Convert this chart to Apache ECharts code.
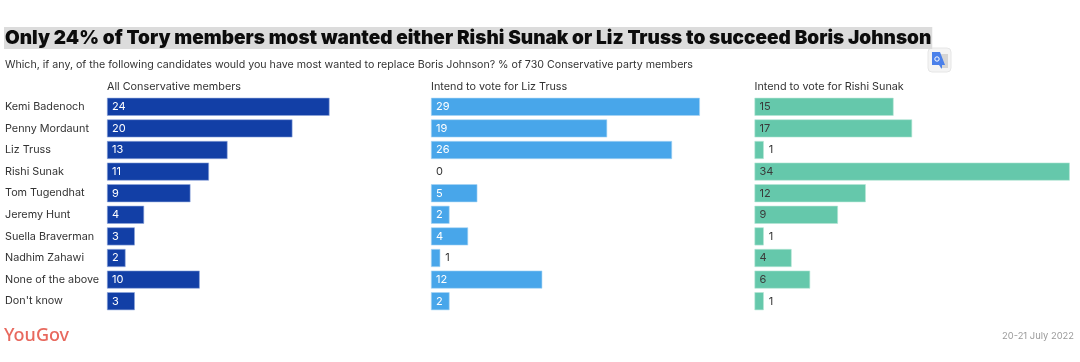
<!DOCTYPE html>
<html><head><meta charset="utf-8">
<style>html,body{margin:0;padding:0;background:#fff}#c{width:1080px;height:362px}</style>
<script src="https://cdn.jsdelivr.net/npm/echarts@6/dist/echarts.min.js"></script>
</head><body><div id="c"></div>
<script>
const categories = ["Kemi Badenoch","Penny Mordaunt","Liz Truss","Rishi Sunak","Tom Tugendhat","Jeremy Hunt","Suella Braverman","Nadhim Zahawi","None of the above","Don't know"];
const allMembers = [24,20,13,11,9,4,3,2,10,3];
const lizVoters = [29,19,26,0,5,2,4,1,12,2];
const rishiVoters = [15,17,1,34,12,9,1,4,6,1];
const panelNames = ["All Conservative members","Intend to vote for Liz Truss","Intend to vote for Rishi Sunak"];
const titleText = "Only 24% of Tory members most wanted either Rishi Sunak or Liz Truss to succeed Boris Johnson";
const subtitleText = "Which, if any, of the following candidates would you have most wanted to replace Boris Johnson? % of 730 Conservative party members";
const dateText = "20-21 July 2022";
const logoText = "YouGov";

const F = "Inter";
const lefts = [107, 431, 754.5];
const colors = ["#123fa6", "#48a6ea", "#65c8ab"];
const borders = ["#8fa6dc", "#a8d5f5", "#b5e5d5"];
const labelColors = ["#ffffff", "#ffffff", "#3a3a3a"];
const values = [allMembers, lizVoters, rishiVoters];

const option = {
  animation: false,
  title: [
    {text: titleText, left: 4, top: 27, padding: [1, 1, 1, 1], backgroundColor: "#dcdcdc", textStyle: {fontFamily: F, fontWeight: 900, fontSize: 19, color: "#0c0c0c", lineHeight: 20}},
    {text: subtitleText, left: 5, top: 59, padding: 0, textStyle: {fontFamily: F, fontWeight: 400, fontSize: 10.65, color: "#333"}},
    ...panelNames.map((n, i) => ({text: n, left: lefts[i], top: 81.5, padding: 0, textStyle: {fontFamily: F, fontWeight: 400, fontSize: 10.8, color: "#333"}})),
    {text: logoText, left: 4, top: 327, padding: 0, textStyle: {fontFamily: "Noto Sans", fontWeight: 500, fontSize: 18, color: "#e8695e"}},
    {text: dateText, right: 6, top: 332, padding: 0, textStyle: {fontFamily: F, fontWeight: 400, fontSize: 9.4, color: "#9a9a9a"}}
  ],
  grid: lefts.map(l => ({left: l, top: 96, width: 324.5, height: 216, containLabel: false})),
  xAxis: lefts.map((l, i) => ({gridIndex: i, type: "value", min: 0, max: 35, show: false})),
  yAxis: lefts.map((l, i) => ({
    gridIndex: i, type: "category", inverse: true, data: categories,
    axisLine: {show: false}, axisTick: {show: false},
    axisLabel: i === 0 ? {show: true, align: "left", margin: 102, fontFamily: F, fontSize: 10.8, color: "#333"} : {show: false}
  })),
  series: values.map((vals, i) => ({
    type: "bar", xAxisIndex: i, yAxisIndex: i, barWidth: 18, silent: true,
    itemStyle: {color: colors[i]},
    data: vals.map(v => ({
      value: v,
      itemStyle: {borderColor: borders[i], borderWidth: v > 0 ? 0.6 : 0},
      label: v <= 1
        ? {show: true, position: "right", distance: 5, color: "#333", fontFamily: F, fontSize: 11}
        : {show: true, position: "insideLeft", distance: 5, color: labelColors[i], fontFamily: F, fontSize: 11}
    }))
  })),
  graphic: [
    {type: "rect", shape: {x: 928, y: 48, width: 23, height: 24, r: 4}, style: {fill: "#f4f4f4", stroke: "#e6e6e6", lineWidth: 1}},
    {type: "polygon", shape: {points: [[940,54],[948,54],[948,68],[940,68]]}, style: {fill: "#d5d5d5"}},
    {type: "polygon", shape: {points: [[932,52],[940,52],[945,65],[942,65],[942,69],[939,65],[932,65]]}, style: {fill: "#4a80ea"}},
    {type: "circle", shape: {cx: 937, cy: 59, r: 2.2}, style: {fill: "none", stroke: "#fff", lineWidth: 1}}
  ]
};
echarts.init(document.getElementById("c"), null, {renderer: "canvas"}).setOption(option);
</script></body></html>
